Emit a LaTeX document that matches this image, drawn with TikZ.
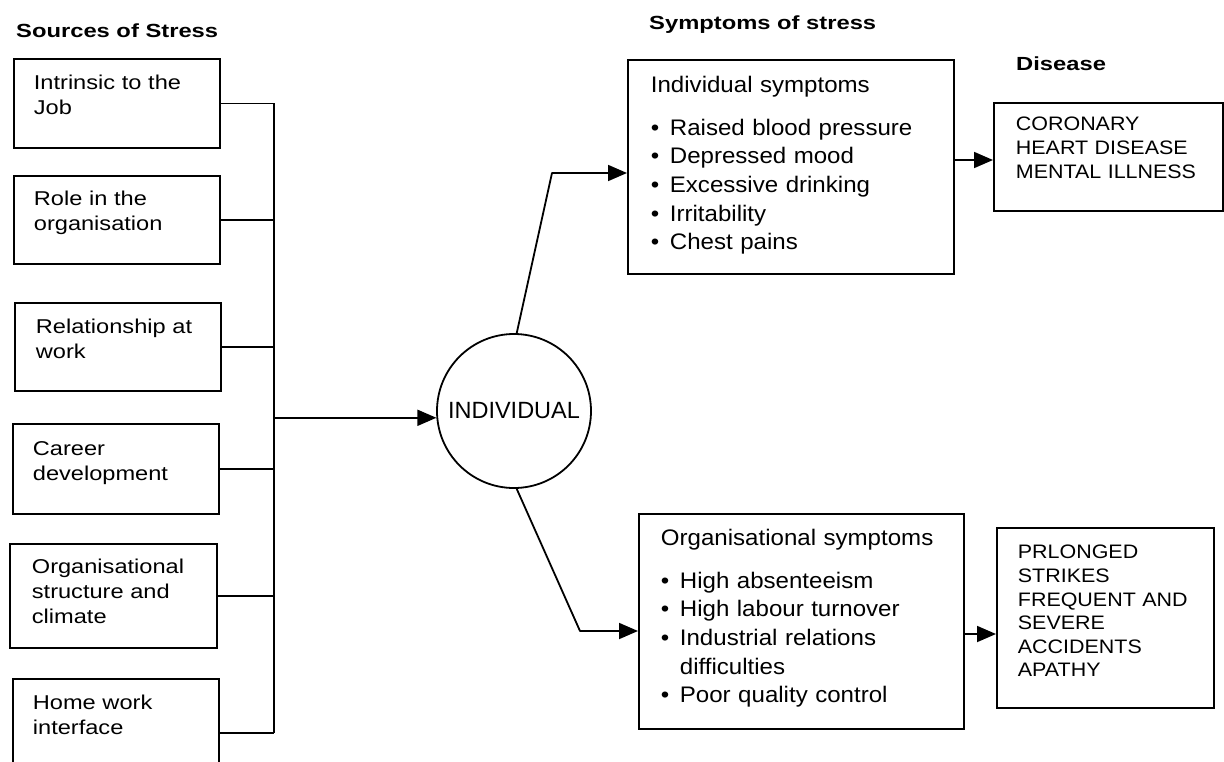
\documentclass[tikz,border=0pt]{standalone}
\usepackage{fontspec}
\setmainfont{Liberation Sans}
\newfontfamily\headfont[FakeStretch=1.25]{Liberation Sans}
\newfontfamily\srcfont[FakeStretch=1.18]{Liberation Sans}
\newfontfamily\symfont[FakeStretch=1.07]{Liberation Sans}
\newfontfamily\disfont[FakeStretch=1.1]{Liberation Sans}
\usetikzlibrary{arrows.meta}

% box text with a left padding; the closing \par keeps the padding on the last line
\newcommand{\padded}[2]{\leftskip=#1\relax #2\par}
% one bulleted symptom
\newcommand{\symitem}[1]{\par\noindent\makebox[19pt][l]{\textbullet}#1}

\tikzset{
  wire/.style={line width=1.8pt},
  arr/.style={line width=1.8pt, -{Triangle[length=19pt,width=16pt]}},
  boxbase/.style={draw, line width=1.8pt, anchor=north west,
    inner xsep=0pt, inner ysep=0pt, align=left},
  srcbox/.style={boxbase, text width=206pt,
    font=\srcfont\fontsize{20}{25}\selectfont},
  symbox/.style={boxbase, font=\symfont\fontsize{22.5}{28.7}\selectfont},
  disbox/.style={boxbase, font=\disfont\fontsize{19.5}{23.6}\selectfont},
  head/.style={anchor=base west, inner sep=0pt,
    font=\headfont\bfseries\fontsize{19}{23}\selectfont},
  hub/.style={circle, draw, line width=1.8pt, minimum size=154pt,
    inner sep=0pt, font=\fontsize{23.5}{28}\selectfont},
}

\begin{document}
\begin{tikzpicture}[x=1pt,y=-1pt]
\useasboundingbox (0,0) rectangle (1224,761);
\clip (0,0) rectangle (1224,761);

% headings
\node[head] (hsrc) at (16,37) {Sources of Stress};
\node[head] (hsym) at (649,29) {Symptoms of stress};
\node[head] (hdis) at (1016,70) {Disease};

% sources of stress
\node[srcbox, text height=31pt, text depth=58pt] (b1) at (13,58)
  {\padded{20pt}{Intrinsic to the\\Job}};
\node[srcbox, text height=30pt, text depth=58pt] (b2) at (13,175)
  {\padded{20pt}{Role in the\\organisation}};
\node[srcbox, text height=31pt, text depth=57pt] (b3) at (14,302)
  {\padded{21pt}{Relationship at\\work}};
\node[srcbox, text height=32pt, text depth=58pt] (b4) at (12,423)
  {\padded{20pt}{Career\\development}};
\node[srcbox, text width=207pt, text height=30pt, text depth=74pt] (b5) at (9,543)
  {\padded{22pt}{Organisational\\structure and\\climate}};
\node[srcbox, text height=31pt, text depth=79pt] (b6) at (12,678)
  {\padded{20pt}{Home work\\interface}};

% the individual
\node[hub] (ind) at (514,411) {INDIVIDUAL};

% symptoms
\node[symbox, text width=326pt, text height=33pt, text depth=181pt] (isym) at (627,59)
  {\padded{23pt}{Individual symptoms\par\vspace{13.5pt}%
   \symitem{Raised blood pressure}%
   \symitem{Depressed mood}%
   \symitem{Excessive drinking}%
   \symitem{Irritability}%
   \symitem{Chest pains}}};
\node[symbox, text width=325pt, text height=32pt, text depth=183pt] (osym) at (638,513)
  {\padded{22pt}{Organisational symptoms\par\vspace{13.5pt}%
   \symitem{High absenteeism}%
   \symitem{High labour turnover}%
   \symitem{Industrial relations}%
   \par\noindent\hspace*{19pt}difficulties%
   \symitem{Poor quality control}}};

% diseases
\node[disbox, text width=229pt, text height=28pt, text depth=80pt] (dis1) at (993,102)
  {\padded{22pt}{CORONARY\\HEART DISEASE\\MENTAL ILLNESS}};
\node[disbox, text width=217pt, text height=31pt, text depth=149pt] (dis2) at (996,527)
  {\padded{21pt}{PRLONGED\\STRIKES\\FREQUENT AND\\SEVERE\\ACCIDENTS\\APATHY}};

% collecting bus from the sources
\coordinate (bus) at (274,0);
\coordinate (s6) at ([yshift=-55pt]b6.north east);
\foreach \b in {b1,b2,b3,b4,b5}
  \draw[wire] (\b.east) -- (\b.east -| bus);
\draw[wire] (s6) -- (s6 -| bus);
\draw[wire] (bus |- b1.east) -- (bus |- s6);
\draw[arr] (bus |- ind.185) -- (ind.185);

% from the individual to the symptoms
\coordinate (k1) at (552,173);
\coordinate (k2) at (580,631);
\draw[arr, line join=round] (ind.88) -- (k1) -- (k1 -| isym.west);
\draw[arr, line join=round] (ind.272) -- (k2) -- (k2 -| osym.west);

% from the symptoms to the diseases
\coordinate (a1) at (0,160);
\coordinate (a2) at (0,634);
\draw[arr] (isym.east |- a1) -- (dis1.west |- a1);
\draw[arr] (osym.east |- a2) -- (dis2.west |- a2);
\end{tikzpicture}
\end{document}
